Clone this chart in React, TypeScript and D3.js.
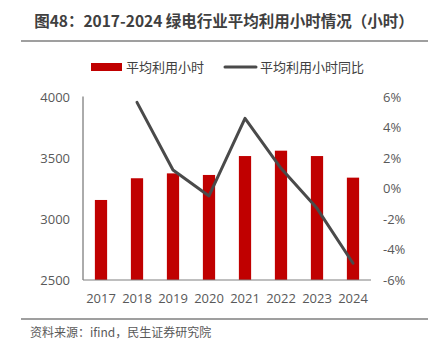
import React from "react";
import * as d3 from "d3";

const years = ["2017", "2018", "2019", "2020", "2021", "2022", "2023", "2024"];
const hours = [3156, 3334, 3374, 3361, 3516, 3560, 3516, 3339];
const yoyYears = ["2018", "2019", "2020", "2021", "2022", "2023", "2024"];
const yoy = [5.65, 1.21, -0.49, 4.6, 1.32, -1.3, -4.9];
const leftTicks = [2500, 3000, 3500, 4000];
const rightTicks = [-6, -4, -2, 0, 2, 4, 6];

const W = 430;
const H = 350;
const font = "'Open Sans', 'Noto Sans CJK SC', sans-serif";
const cjk = "'Noto Sans CJK SC', sans-serif";

export default function App() {
  const left = 83;
  const right = 371;
  const top = 97;
  const bottom = 280;

  const x = d3.scaleBand<string>().domain(years).range([left, right]).paddingInner(0.66).paddingOuter(0.33);
  const y = d3.scaleLinear().domain([2500, 4000]).range([bottom, top]);
  const y2 = d3.scaleLinear().domain([-6, 6]).range([bottom, top]);

  const line = d3
    .line<number>()
    .x((_, i) => (x(yoyYears[i]) ?? 0) + x.bandwidth() / 2)
    .y((d) => y2(d));

  return (
    <div style={{ position: "fixed", left: 0, top: 0 }}>
      <svg width={W} height={H} style={{ display: "block", background: "#fff" }}>
        <text x={224} y={27} textAnchor="middle" fontFamily={cjk} fontWeight="bold" fontSize={15.5} fill="#404040">
          图48：2017-2024 绿电行业平均利用小时情况（小时）
        </text>
        <line x1={21} x2={428} y1={41} y2={41} stroke="#7f7f7f" strokeWidth={1.5} />

        {/* legend */}
        <rect x={91} y={63} width={31} height={8} fill="#c00000" />
        <text x={126} y={72} fontFamily={cjk} fontSize={13} fill="#404040">平均利用小时</text>
        <line x1={225} x2={256} y1={67} y2={67} stroke="#4a4a4a" strokeWidth={3} strokeLinecap="round" />
        <text x={260} y={72} fontFamily={cjk} fontSize={13} fill="#404040">平均利用小时同比</text>

        {/* bars */}
        {hours.map((v, i) => (
          <rect key={years[i]} x={x(years[i])} y={y(v)} width={x.bandwidth()} height={bottom - y(v)} fill="#c00000" />
        ))}

        {/* axes */}
        <line x1={left} x2={left} y1={top - 0.5} y2={bottom} stroke="#595959" strokeWidth={1} />
        <line x1={left} x2={right} y1={bottom} y2={bottom} stroke="#7f7f7f" strokeWidth={1} />

        {leftTicks.map((t) => (
          <text key={t} x={70} y={y(t)} dy="0.35em" textAnchor="end" fontFamily={font} fontSize={13} fill="#595959">
            {t}
          </text>
        ))}
        {rightTicks.map((t) => (
          <text key={t} x={383} y={y2(t)} dy="0.35em" textAnchor="start" fontFamily={font} fontSize={13} fill="#595959">
            {`${t}%`}
          </text>
        ))}
        {years.map((yr) => (
          <text key={yr} x={(x(yr) ?? 0) + x.bandwidth() / 2} y={298} dy="0.35em" textAnchor="middle" fontFamily={font} fontSize={13} fill="#595959">
            {yr}
          </text>
        ))}

        <path d={line(yoy) ?? ""} fill="none" stroke="#4a4a4a" strokeWidth={3} strokeLinejoin="round" strokeLinecap="round" />

        <line x1={21} x2={428} y1={319} y2={319} stroke="#7f7f7f" strokeWidth={1.5} />
        <text x={30} y={337} fontFamily={cjk} fontSize={12} fill="#595959">
          资料来源：ifind，民生证券研究院
        </text>
      </svg>
    </div>
  );
}
